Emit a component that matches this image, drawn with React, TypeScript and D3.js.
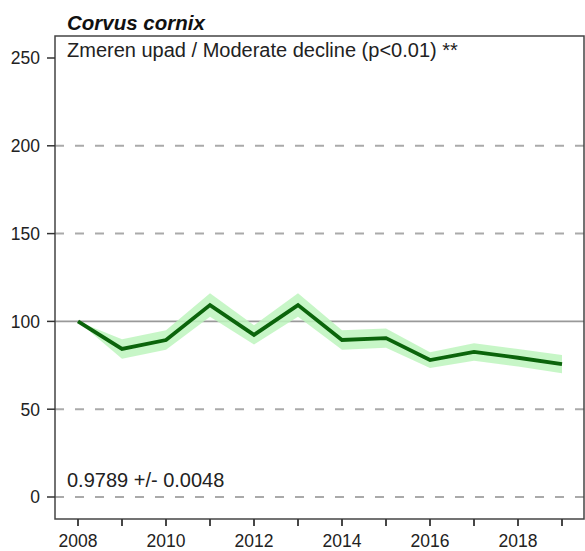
import React from "react";
import * as d3 from "d3";

const years = [2008, 2009, 2010, 2011, 2012, 2013, 2014, 2015, 2016, 2017, 2018, 2019];
const indexValues = [100, 84.3, 89.4, 109.3, 92.3, 109.3, 89.4, 90.5, 78.0, 82.6, 79.3, 75.7];
const lowerValues = [100, 78.8, 83.9, 102.6, 86.8, 102.6, 83.9, 85.0, 73.5, 77.6, 74.3, 70.5];
const upperValues = [100, 89.8, 94.9, 116.0, 97.8, 116.0, 94.9, 96.0, 82.5, 87.6, 84.3, 80.9];
const yTicks = [0, 50, 100, 150, 200, 250];
const dashedLevels = [0, 50, 150, 200];
const xTickLabels = [2008, 2010, 2012, 2014, 2016, 2018];
const titleText = "Corvus cornix";
const trendText = "Zmeren upad / Moderate decline (p<0.01) **";
const slopeText = "0.9789 +/- 0.0048";

export default function App() {
  const W = 585;
  const H = 551;
  const left = 55, right = 584, top = 36, bottom = 519;
  const x = d3.scaleLinear().domain([2008, 2019]).range([78, 562]);
  const y = d3.scaleLinear().domain([0, 250]).range([497, 58]);

  const data = years.map((yr, i) => ({ yr, v: indexValues[i], lo: lowerValues[i], hi: upperValues[i] }));
  const area = d3.area<any>().x(d => x(d.yr)).y0(d => y(d.lo)).y1(d => y(d.hi));
  const line = d3.line<any>().x(d => x(d.yr)).y(d => y(d.v));
  const font = "'Liberation Sans', Arial, sans-serif";

  return (
    <svg width={W} height={H} style={{ position: "absolute", left: 0, top: 0, background: "#fff" }} fontFamily={font}>
      <rect x={0} y={0} width={W} height={H} fill="#fff" />
      {dashedLevels.map(v => (
        <line key={v} x1={left} x2={right} y1={y(v)} y2={y(v)} stroke="#aaaaaa" strokeWidth={2} strokeDasharray="9,11" />
      ))}
      <line x1={left} x2={right} y1={y(100)} y2={y(100)} stroke="#999999" strokeWidth={1.6} />
      <path d={area(data) || ""} fill="#bdf4bd" opacity={0.85} />
      <path d={line(data) || ""} fill="none" stroke="#0b640b" strokeWidth={3.8} strokeLinejoin="miter" />
      <rect x={left} y={top} width={right - left} height={bottom - top} fill="none" stroke="#444" strokeWidth={1.5} />
      {yTicks.map(v => (
        <g key={v}>
          <line x1={47} x2={left} y1={y(v)} y2={y(v)} stroke="#333" strokeWidth={1.5} />
          <text x={40} y={y(v)} dy="0.36em" textAnchor="end" fontSize={17.5} fill="#222">{v}</text>
        </g>
      ))}
      {years.map(yr => (
        <line key={yr} x1={x(yr)} x2={x(yr)} y1={bottom} y2={bottom + 7} stroke="#333" strokeWidth={1.8} />
      ))}
      {xTickLabels.map(yr => (
        <text key={yr} x={x(yr)} y={547} textAnchor="middle" fontSize={17.5} fill="#222">{yr}</text>
      ))}
      <text x={67} y={30} fontSize={20.5} fontWeight="bold" fontStyle="italic" fill="#111">{titleText}</text>
      <text x={67} y={57} fontSize={20} fill="#222">{trendText}</text>
      <text x={67} y={487} fontSize={20} fill="#222">{slopeText}</text>
    </svg>
  );
}
